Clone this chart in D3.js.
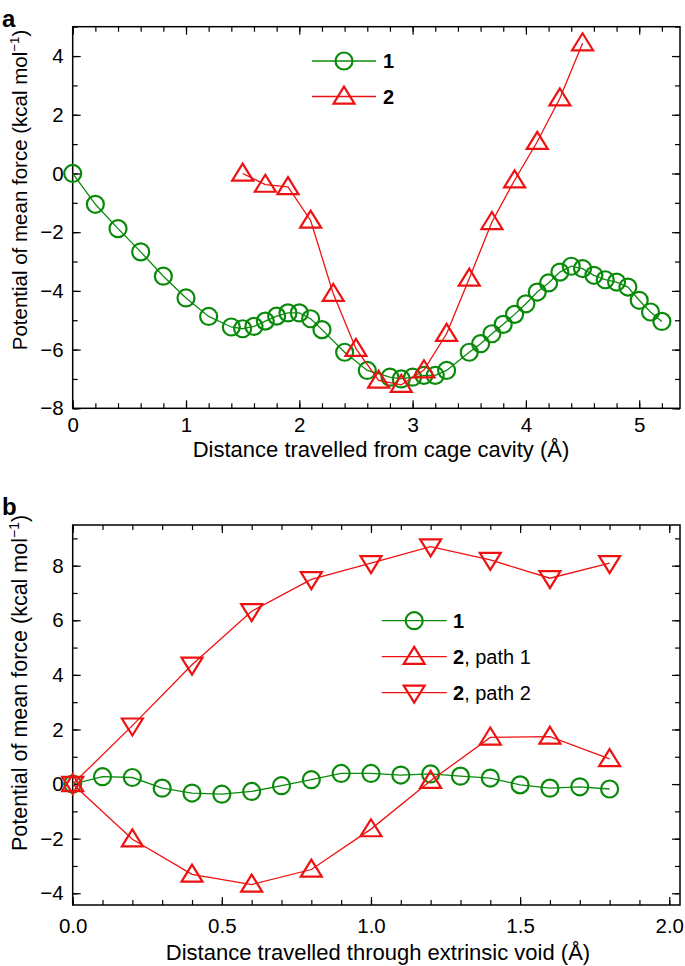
<!DOCTYPE html>
<html><head><meta charset="utf-8">
<script src="https://cdn.jsdelivr.net/npm/d3@7"></script>
<style>
body{margin:0;background:#fff;}
text{font-family:"Liberation Sans",Arial,Helvetica,sans-serif;fill:#000;}
</style></head>
<body><svg id="c" width="685" height="966"></svg>
<script>
// ---------- data ----------
const aX1 = [0,0.2,0.4,0.6,0.8,1.0,1.2,1.4,1.5,1.6,1.7,1.8,1.9,2.0,2.1,2.2,2.4,2.6,2.8,2.9,3.0,3.1,3.2,3.3,3.5,3.6,3.7,3.8,3.9,4.0,4.1,4.2,4.3,4.4,4.5,4.6,4.7,4.8,4.9,5.0,5.1,5.2];
const aY1 = [0,-1.05,-1.88,-2.67,-3.5,-4.24,-4.87,-5.23,-5.29,-5.21,-5.03,-4.86,-4.75,-4.75,-4.95,-5.32,-6.09,-6.71,-6.94,-7.0,-6.94,-6.88,-6.88,-6.71,-6.09,-5.8,-5.46,-5.14,-4.8,-4.44,-4.04,-3.73,-3.36,-3.16,-3.24,-3.47,-3.62,-3.70,-3.87,-4.32,-4.72,-5.04];
const aX2 = [1.5,1.7,1.9,2.1,2.3,2.5,2.7,2.9,3.1,3.3,3.5,3.7,3.9,4.1,4.3,4.5];
const aY2 = [0,-0.38,-0.46,-1.6,-4.1,-5.97,-7.05,-7.2,-6.7,-5.46,-3.58,-1.65,-0.23,1.08,2.56,4.44];

const bX1 = [0,0.1,0.2,0.3,0.4,0.5,0.6,0.7,0.8,0.9,1.0,1.1,1.2,1.3,1.4,1.5,1.6,1.7,1.8];
const bY1 = [0,0.27,0.24,-0.15,-0.33,-0.37,-0.27,-0.06,0.16,0.39,0.39,0.33,0.37,0.29,0.22,-0.03,-0.15,-0.1,-0.18];
const bX2 = [0,0.2,0.4,0.6,0.8,1.0,1.2,1.4,1.6,1.8];
const bYpath1 = [0,-2.02,-3.31,-3.68,-3.13,-1.65,0.12,1.71,1.74,0.92];
const bYpath2 = [0,2.14,4.37,6.33,7.5,8.09,8.7,8.21,7.54,8.09];

const aXTicks = [0,1,2,3,4,5];
const aYTicks = [-8,-6,-4,-2,0,2,4];
const bXTicks = [0,0.5,1.0,1.5,2.0];
const bYTicks = [-4,-2,0,2,4,6,8];

const GREEN = "#0a8a0a", RED = "#ee1111";
const svg = d3.select("#c");

function triPath(up){
  const w=10.5, h=17;
  const s = up?1:-1;
  return `M0,${-s*h*0.58}L${w},${s*h*0.42}L${-w},${s*h*0.42}Z`;
}

function panel(cfg){
  const g = svg.append("g");
  const x = d3.scaleLinear().domain(cfg.xd).range([cfg.l, cfg.r]);
  const y = d3.scaleLinear().domain(cfg.yd).range([cfg.b, cfg.t]);
  const axes = [
    [d3.axisBottom, cfg.b, x, cfg.xMinor, cfg.xMajor, "x"],
    [d3.axisTop, cfg.t, x, cfg.xMinor, cfg.xMajor, "x"],
    [d3.axisLeft, cfg.l, y, cfg.yMinor, cfg.yMajor, "y"],
    [d3.axisRight, cfg.r, y, cfg.yMinor, cfg.yMajor, "y"]
  ];
  axes.forEach(([fn,pos,sc,minor,major,dir],i)=>{
    const tr = dir==="x" ? `translate(0,${pos})` : `translate(${pos},0)`;
    const gm = g.append("g").attr("transform",tr).call(fn(sc).tickValues(minor).tickSize(-5).tickFormat(""));
    gm.select(".domain").remove();
    const ax = fn(sc).tickValues(major).tickSize(-8);
    if(i===0) ax.tickFormat(cfg.xFmt).tickPadding(cfg.xPad);
    else if(i===2) ax.tickFormat(d3.format("d")).tickPadding(9);
    else ax.tickFormat("");
    const ga = g.append("g").attr("transform",tr).call(ax);
    ga.select(".domain").remove();
    ga.selectAll("text").style("font-size","20.5px").attr("fill","#000").style("font-family","'Liberation Sans',Arial,sans-serif");
    g.selectAll(".tick line").attr("stroke","#000").attr("stroke-width",1.2);
  });
  g.append("rect").attr("x",cfg.l).attr("y",cfg.t).attr("width",cfg.r-cfg.l).attr("height",cfg.b-cfg.t)
    .attr("fill","none").attr("stroke","#000").attr("stroke-width",1.5);

  const line = d3.line().x(d=>x(d[0])).y(d=>y(d[1]));
  cfg.series.forEach(s=>{
    const pts = s.xs.map((v,i)=>[v,s.ys[i]]);
    g.append("path").attr("d",line(pts)).attr("fill","none").attr("stroke",s.color).attr("stroke-width",1.3);
    if(s.marker==="circle"){
      g.selectAll(null).data(pts).enter().append("circle")
        .attr("cx",d=>x(d[0])).attr("cy",d=>y(d[1])).attr("r",8.5)
        .attr("fill","none").attr("stroke",s.color).attr("stroke-width",2.2);
    } else {
      g.selectAll(null).data(pts).enter().append("path")
        .attr("d",triPath(s.marker==="up"))
        .attr("transform",d=>`translate(${x(d[0])},${y(d[1])})`)
        .attr("fill","none").attr("stroke",s.color).attr("stroke-width",2.2).attr("stroke-linejoin","miter");
    }
  });
  cfg.legend.items.forEach((it,i)=>{
    const ly = cfg.legend.y + i*cfg.legend.dy;
    const L = cfg.legend;
    g.append("line").attr("x1",L.x1).attr("x2",L.x2).attr("y1",ly).attr("y2",ly).attr("stroke",it.color).attr("stroke-width",1.3);
    const mx=(L.x1+L.x2)/2;
    if(it.marker==="circle") g.append("circle").attr("cx",mx).attr("cy",ly).attr("r",8.5).attr("fill","none").attr("stroke",it.color).attr("stroke-width",2.2);
    else g.append("path").attr("d",triPath(it.marker==="up")).attr("transform",`translate(${mx},${ly})`).attr("fill","none").attr("stroke",it.color).attr("stroke-width",2.2);
    const t = g.append("text").attr("x",L.tx).attr("y",ly+7).style("font-size","20px");
    t.append("tspan").attr("font-weight","bold").text(it.bold);
    if(it.rest) t.append("tspan").text(it.rest);
  });
  g.append("text").attr("x",cfg.xtX).attr("y",cfg.xtY).attr("text-anchor","middle").style("font-size","22px").text(cfg.xTitle);
  const yt = g.append("text").attr("transform",`translate(27,${cfg.ytY}) rotate(-90)`).attr("text-anchor","middle").style("font-size",cfg.ytSize+"px");
  yt.append("tspan").text("Potential of mean force (kcal mol");
  yt.append("tspan").attr("dy",-8).style("font-size",(cfg.ytSize*0.65)+"px").text("\u22121");
  yt.append("tspan").attr("dy",8).text(")");
  g.append("text").attr("x",2).attr("y",cfg.labY).style("font-size","24px").attr("font-weight","bold").text(cfg.label);
}

const rng = (a,b,s)=>d3.range(Math.round((b-a)/s)+1).map(i=>+(a+i*s).toFixed(3));

panel({
  l:72.7, r:680, t:26.7, b:408.3,
  xd:[0,5.36], yd:[-8,5],
  xMajor:aXTicks, xMinor:rng(0,5.2,0.2), yMajor:aYTicks, yMinor:rng(-8,5,1),
  xFmt:d3.format("d"), xPad:9,
  series:[
    {xs:aX1, ys:aY1, color:GREEN, marker:"circle"},
    {xs:aX2, ys:aY2, color:RED, marker:"up"}
  ],
  legend:{x1:312,x2:376,tx:383,y:61,dy:35.5,items:[
    {bold:"1",color:GREEN,marker:"circle"},
    {bold:"2",color:RED,marker:"up"}]},
  xTitle:"Distance travelled from cage cavity (Å)", xtX:381, xtY:457, ytY:190, ytSize:20.5,
  label:"a", labY:27
});

panel({
  l:72.7, r:680, t:525, b:905,
  xd:[0,2.036], yd:[-4.43,9.49],
  xMajor:bXTicks, xMinor:rng(0,2.0,0.1), yMajor:bYTicks, yMinor:rng(-4,9,1),
  xFmt:d3.format(".1f"), xPad:13,
  series:[
    {xs:bX1, ys:bY1, color:GREEN, marker:"circle"},
    {xs:bX2, ys:bYpath1, color:RED, marker:"up"},
    {xs:bX2, ys:bYpath2, color:RED, marker:"down"}
  ],
  legend:{x1:381.7,x2:446.7,tx:453,y:620.7,dy:36,items:[
    {bold:"1",color:GREEN,marker:"circle"},
    {bold:"2",rest:", path 1",color:RED,marker:"up"},
    {bold:"2",rest:", path 2",color:RED,marker:"down"}]},
  xTitle:"Distance travelled through extrinsic void (Å)", xtX:378, xtY:960, ytY:683, ytSize:21.5,
  label:"b", labY:515
});
</script></body></html>
